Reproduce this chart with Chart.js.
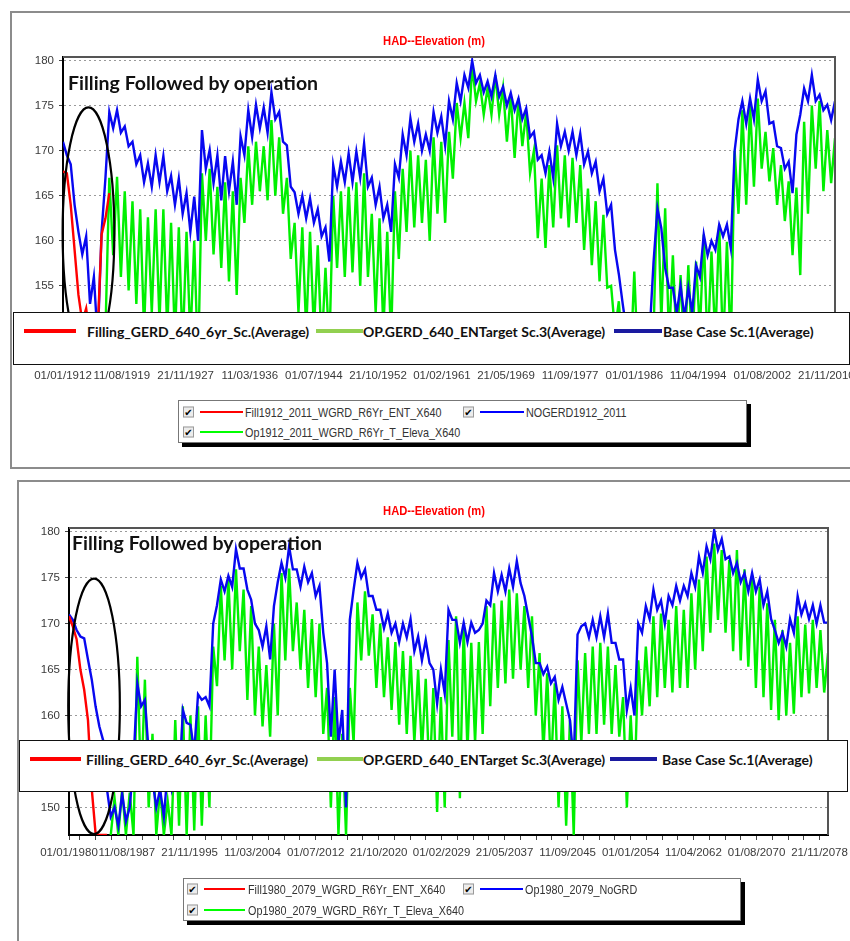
<!DOCTYPE html>
<html>
<head>
<meta charset="utf-8">
<script src="https://cdn.jsdelivr.net/npm/chart.js@4.4.1/dist/chart.umd.min.js"></script>
<style>
  html, body { margin: 0; padding: 0; width: 850px; height: 941px; overflow: hidden; background: #fff; }
  .panel { position: absolute; border: 2px solid #8c8c8c; background: #fff; z-index: 0; }
  canvas { position: absolute; left: 0; z-index: 1; }
  .title { position: absolute; z-index: 2; color: #ff0000; white-space: nowrap; transform: translate(-50%, -50%) scaleX(0.86);
           font: bold 13px 'Liberation Sans', Arial, sans-serif; }
  .note { position: absolute; z-index: 2; color: #111; white-space: nowrap; transform: translateY(-50%);
          font: bold 19.5px Lato, 'Open Sans', sans-serif; }
  .ovl { position: absolute; z-index: 3; background: #fff; border: 1.5px solid #111; box-sizing: border-box; }
  .sw { position: absolute; z-index: 4; height: 4px; transform: translateY(-50%); }
  .ovt { position: absolute; z-index: 4; color: #111; white-space: nowrap; transform: translateY(-50%);
         font: bold 14px Lato, 'Open Sans', sans-serif; }
  .leg { position: absolute; z-index: 3; background: #fff; border: 1px solid #777; box-sizing: border-box;
         box-shadow: 4px 4px 0 #000; }
  .cb { position: absolute; z-index: 4; width: 11px; height: 11px; border: 1px solid #9a9a9a; background: #ececec;
        box-sizing: border-box; transform: translateY(-50%); font: bold 10px 'DejaVu Sans', sans-serif;
        line-height: 9px; text-align: center; color: #000; }
  .ln { position: absolute; z-index: 4; height: 2px; transform: translateY(-50%); }
  .lt { position: absolute; z-index: 4; color: #333; white-space: nowrap; transform-origin: left center;
        transform: translateY(-50%) scaleX(0.83); font: 13px 'Liberation Sans', Arial, sans-serif; }
</style>
</head>
<body>
<div class="panel" style="left:10px; top:11px; width:860px; height:454px;"></div>
<div class="panel" style="left:17px; top:480px; width:860px; height:480px;"></div>
<canvas id="topChart" width="900" height="400" style="top:0; width:900px; height:400px;"></canvas>
<canvas id="botChart" width="900" height="420" style="top:470px; width:900px; height:420px;"></canvas>

<script>
// ── Data: half-yearly readings (peak / low) of HAD elevation, m ──────────
// Upper chart starts 1912.0, lower chart starts 1980.0, step 0.5 year.
const TOP_START = 1912;
const BOT_START = 1980;

const TOP_FILL = [167.7, 167.5, 164, 159, 154, 151, 152.5, 149, 148, 150, 160.7, 162.5, 165.3];

const TOP_OP = [
  null, null, null, null, null, null, null, null, null, null,                 // 1912-16
  null, 150, 167, 158.4, 167.1, 156, 165.5, 154.5, 164.4, 153,                // 1917-21
  163.5, 150, 162.6, 152, 163.5, 151, 163.5, 150, 162, 149,                   // 1922-26
  161.5, 148, 161, 149, 160, 146, 167.5, 160, 168, 158.5,                     // 1927-31
  166, 157, 166.5, 155.5, 165.5, 154, 167, 162, 170.5, 164,                   // 1932-36
  171, 165.5, 170.5, 164.5, 173.4, 165, 171.5, 163, 167, 158,                 // 1937-41
  162, 152, 161.5, 150, 161, 150, 159.5, 148, 157, 148,                       // 1942-46
  165, 157, 165.5, 156, 166, 156.5, 166.5, 155, 167.5, 156,                   // 1947-51
  163, 152, 162.5, 150, 161, 149, 165.5, 158, 168, 161,                       // 1952-56
  170, 161.5, 169.5, 162, 169, 160, 171.5, 163, 171, 162,                     // 1957-61
  172.1, 166.9, 175.3, 171.4, 175.3, 171.4, 179.5, 175.5, 177.5, 174,         // 1962-66
  177, 174, 178.4, 174, 177, 171, 176.2, 169.2, 175.8, 170.5,                 // 1967-71
  174.3, 167.5, 170, 160.3, 166.9, 159.2, 168.4, 161.5, 170.6, 162.5,         // 1972-76
  169.5, 161.5, 169.2, 162, 168.4, 159, 165.8, 157.3, 164.4, 155.5,           // 1977-81
  162.9, 154.8, 155, 150, 153.3, 147, 147, 146, 156.6, 146,                   // 1982-86
  147, 146, 146.5, 150, 166.4, 151, 163.6, 149, 158.4, 148,                   // 1987-91
  156.2, 147, 157.3, 148, 157.7, 150, 160.7, 148, 158.8, 149,                 // 1992-96
  161.8, 148, 159.9, 148, 170, 163, 174.5, 164, 175, 166,                     // 1997-2001
  175.8, 168, 172.1, 166.6, 170.3, 164, 168.4, 162.2, 166.6, 158.4,           // 2002-06
  165.9, 156.2, 173.2, 163, 175, 168, 175.5, 165.5, 172.3, 166.4,             // 2007-11
  171.4                                                                       // 2012
];

const TOP_BASE = [
  171, 169.5, 168.5, 164, 161, 158.5, 160.5, 153, 156, 149,                   // 1912-16
  161, 167, 174.3, 172.5, 174.5, 172, 172.7, 170.5, 171, 168.5,               // 1917-21
  169.5, 166.5, 168.6, 166, 169.5, 166.5, 169.4, 165.5, 167.2, 164,           // 1922-26
  166.9, 163, 165.3, 161, 164.9, 160, 172.3, 168, 170.1, 166.4,               // 1927-31
  169.5, 164.5, 169.4, 165.5, 168.8, 164, 171.6, 169.5, 174.5, 171.5,         // 1932-36
  175.1, 172.5, 174.8, 172, 176.5, 173.5, 174.3, 171, 170.6, 166,             // 1937-41
  165.4, 163, 165, 162.5, 164.7, 162, 163.5, 160.5, 161.5, 157.7,             // 1942-46
  168.4, 166, 168.8, 166.5, 169.7, 166.5, 169.9, 167, 170.8, 166,             // 1947-51
  167, 164, 166, 162.5, 164, 161, 168.5, 167, 171.8, 169.5,                   // 1952-56
  173.6, 171, 173, 170, 171.8, 170, 174.3, 172, 173.8, 170.6,                 // 1957-61
  175.5, 173.5, 177.5, 175.5, 178.4, 177, 180, 177.5, 178.4, 176.5,           // 1962-66
  177.7, 176, 178.4, 176, 177.1, 175, 176.4, 174.5, 175.8, 173.5,             // 1967-71
  174.7, 171.5, 172.1, 169, 169.5, 167.5, 169.9, 167, 173, 170.5,             // 1972-76
  172.1, 170, 172.1, 169.5, 171.9, 168.5, 169.9, 167.5, 168.8, 165.5,         // 1977-81
  166.9, 163, 164, 159, 156.3, 153, 150, 148, 149, 147.5,                     // 1982-86
  149, 147.5, 150, 157.7, 163.6, 161.4, 157, 154.8, 154.8, 152,               // 1987-91
  155, 151.5, 154.8, 152, 157.3, 156, 160.7, 158.4, 160, 159,                 // 1992-96
  161.8, 160.5, 161.8, 159.2, 170, 173.5, 175.5, 173, 175.8, 173.5,           // 1997-2001
  177.9, 175.5, 176.6, 173, 173.2, 170.5, 170.3, 168, 168.8, 165.3,           // 2002-06
  171.8, 174, 176.9, 175.5, 178.4, 175.5, 176.2, 174.5, 175.1, 173.4,         // 2007-11
  175.5                                                                       // 2012
];

const BOT_FILL = [170.8, 169.7, 168.3, 165, 162.8, 159.5, 152, 147.2, 147, 147, 147];

const BOT_OP = [
  null, null, null, null, null, null, null, null, null, null,                 // 1980-84
  null, 147, 151, 147, 152, 147, 151.6, 147, 166.4, 152,                      // 1985-89
  163.9, 150, 158, 147, 152, 147, 150.7, 147, 159.5, 148,                     // 1990-94
  161, 147, 160, 147.5, 161, 148, 160, 150, 167.5, 163.2,                     // 1995-99
  174.1, 166, 174.8, 165, 175.9, 167, 173.7, 161.7, 171.9, 160,               // 2000-04
  167.5, 158.8, 165.5, 157.7, 170, 160, 175.5, 166, 176, 167,                 // 2005-09
  172.3, 165, 171.5, 163, 170.5, 162, 170, 158, 163, 150,                     // 2010-14
  162, 147, 158, 147, 163, 157, 172.3, 166, 173.5, 166.5,                     // 2015-19
  171, 163, 170, 162, 168.5, 160.6, 168, 159, 167, 158,                       // 2020-24
  166.5, 157, 165, 156, 164, 153, 163, 149.5, 162, 150,                       // 2025-29
  168.2, 157.7, 170.8, 151, 169.7, 156, 167.9, 157, 168, 158,                 // 2030-34
  171.9, 161, 172.2, 163, 172.5, 163.5, 173.7, 164, 173.3, 165,               // 2035-39
  171.9, 163, 170.8, 160, 166.8, 156, 164.6, 154, 163.5, 150,                 // 2040-44
  161, 148, 159.5, 147, 166, 157, 166.8, 158, 167.5, 158,                     // 2045-49
  167.9, 159, 167.5, 158, 165.5, 157.7, 162, 150, 160, 152,                   // 2050-54
  166, 160, 167.5, 161, 170.8, 162, 171.1, 163, 170.4, 162.5,                 // 2055-59
  171.9, 163, 171.5, 163, 173.3, 165, 174.8, 167, 177.3, 169,                 // 2060-64
  178.7, 170.4, 178, 169, 176.9, 167, 178, 166, 175.9, 165.3,                 // 2065-69
  175.2, 163, 174, 162, 172.2, 160.6, 170.4, 159.5, 169.3, 160,               // 2070-74
  167.9, 160.2, 170.8, 162, 169.9, 162.4, 170.4, 163, 169.3, 162.5,           // 2075-79
  166.8                                                                       // 2080
];

const BOT_BASE = [
  171, 170.4, 169.3, 168.6, 168.4, 166.1, 163.9, 161, 158.8, 157.3,           // 1980-84
  152, 149, 150, 148, 151.5, 148.5, 150, 155, 163.5, 161,                     // 1985-89
  161.7, 156, 153, 150, 152, 149, 154, 152, 155, 152,                         // 1990-94
  160.6, 159.2, 159, 156, 162.3, 161.7, 162, 161, 170, 172,                   // 1995-99
  174.8, 173.5, 175.2, 174, 178.1, 176, 176, 173.7, 172.6, 170,               // 2000-04
  169.3, 167.5, 169.7, 166.1, 171.9, 174.5, 176.6, 175, 178.4, 175.9,         // 2005-09
  175.9, 174, 176.2, 174.5, 175.5, 173, 174.1, 169, 165.7, 157.7,             // 2010-14
  165, 157, 160.6, 150, 170.4, 173.7, 176.6, 175, 175.9, 173,                 // 2015-19
  173, 171.5, 171.5, 169.5, 171.1, 169, 170, 168, 170, 168.5,                 // 2020-24
  170.5, 167, 168.6, 166, 168.2, 165.7, 165, 161.3, 165, 162.4,               // 2025-29
  171.5, 170.4, 170.4, 167.9, 170.1, 168, 170.1, 169, 169.3, 170,             // 2030-34
  172.5, 172, 175.5, 173.5, 175.3, 173.5, 176, 174, 176.8, 174.4,             // 2035-39
  173, 170.8, 168.6, 165.7, 165.7, 164.5, 165.3, 163.5, 164.2, 161.7,         // 2040-44
  163.1, 161.3, 159.5, 155, 168.8, 169.7, 170, 168.5, 170.4, 168.5,           // 2045-49
  170.8, 168.5, 171.1, 167.9, 167.9, 166.1, 166.1, 160.6, 163, 160,           // 2050-54
  170, 169, 171.9, 170.5, 173.7, 171.5, 172.5, 170, 173, 172,                 // 2055-59
  174.1, 172.5, 174.1, 173, 175.5, 174, 177.3, 175.5, 178.4, 177,             // 2060-64
  180.2, 178, 179.2, 177, 177.3, 175.5, 176.6, 174.5, 175.5, 173.5,           // 2065-69
  175.5, 173.5, 174.8, 172, 173.5, 170.5, 169.3, 167.9, 169, 167.5,           // 2070-74
  170.5, 169, 173, 171, 172.2, 170.5, 172, 170, 172, 170.1,                   // 2075-79
  170.1                                                                       // 2080
];

const TOP_LABELS = ['01/01/1912', '11/08/1919', '21/11/1927', '11/03/1936', '01/07/1944', '21/10/1952',
  '01/02/1961', '21/05/1969', '11/09/1977', '01/01/1986', '11/04/1994', '01/08/2002', '21/11/2010'];
const BOT_LABELS = ['01/01/1980', '11/08/1987', '21/11/1995', '11/03/2004', '01/07/2012', '21/10/2020',
  '01/02/2029', '21/05/2037', '11/09/2045', '01/01/2054', '11/04/2062', '01/08/2070', '21/11/2078'];
const Y_TICKS = [150, 155, 160, 165, 170, 175, 180];

const TITLE = 'HAD--Elevation (m)';
const NOTE = 'Filling Followed by operation';
const SCENARIOS = ['Filling_GERD_640_6yr_Sc.(Average)', 'OP.GERD_640_ENTarget Sc.3(Average)', 'Base Case Sc.1(Average)'];
const TOP_SERIES = ['Fill1912_2011_WGRD_R6Yr_ENT_X640', 'Op1912_2011_WGRD_R6Yr_T_Eleva_X640', 'NOGERD1912_2011'];
const BOT_SERIES = ['Fill1980_2079_WGRD_R6Yr_ENT_X640', 'Op1980_2079_WGRD_R6Yr_T_Eleva_X640', 'Op1980_2079_NoGRD'];

// ── Styling ──────────────────────────────────────────────────────────────
const TICK_FONT = { family: "'Liberation Sans', Arial, sans-serif", size: 11.5 };
const LINE_RED   = '#ff0000';
const LINE_GREEN = '#00f000';
const LINE_BLUE  = '#0808f0';
const SW_COLORS  = ['#ff0000', '#92d050', '#1a1aa0'];

// dd/mm/yyyy -> decimal year
function toYear(s) {
  const [d, m, y] = s.split('/').map(Number);
  const t0 = Date.UTC(y, 0, 1), t1 = Date.UTC(y + 1, 0, 1);
  return y + (Date.UTC(y, m - 1, d) - t0) / (t1 - t0);
}

// Major ticks at the labelled dates, 3 minor ticks in each gap
function buildTicks(labels) {
  const pos = labels.map(toYear);
  const step = (pos[2] - pos[1]) / 4;
  const ticks = [];
  labels.forEach((txt, i) => {
    ticks.push({ value: pos[i], txt });
    const next = pos[i + 1];
    if (next === undefined) return;
    for (let k = 3; k >= 1; k--) {
      const v = next - k * step;
      if (v > pos[i] + 0.2) ticks.push({ value: v, txt: '' });
    }
  });
  return ticks;
}

const toPoints = (arr, start) => arr.map((v, i) => ({ x: start + i * 0.5, y: v }));

// Ellipse annotation (data coords) + top / right plot frame
const framePlugin = {
  id: 'frame',
  afterDatasetsDraw(chart, args, opts) {
    const { ctx, chartArea: a, scales: { x, y } } = chart;
    const e = opts.ellipse;
    ctx.save();
    const cx = x.getPixelForValue(e.x), cy = y.getPixelForValue(e.y);
    const rx = Math.abs(x.getPixelForValue(e.x + e.rx) - cx);
    const ry = Math.abs(y.getPixelForValue(e.y + e.ry) - cy);
    ctx.beginPath();
    ctx.ellipse(cx, cy, rx, ry, 0, 0, Math.PI * 2);
    ctx.lineWidth = 2.2;
    ctx.strokeStyle = '#000';
    ctx.stroke();
    ctx.beginPath();
    ctx.moveTo(a.left, a.top);
    ctx.lineTo(a.right, a.top);
    ctx.lineTo(a.right, a.bottom);
    ctx.lineWidth = 2;
    ctx.strokeStyle = '#555';
    ctx.stroke();
    ctx.restore();
  }
};

function makeChart(id, cfg) {
  const ds = (label, arr, color, start) => ({
    label, data: toPoints(arr, start), borderColor: color, backgroundColor: color,
    borderWidth: 2.4, pointRadius: 0, tension: 0, spanGaps: false
  });
  return new Chart(document.getElementById(id).getContext('2d'), {
    type: 'line',
    data: {
      datasets: [
        ds(cfg.names[0], cfg.fill, LINE_RED, cfg.start),
        ds(cfg.names[2], cfg.base, LINE_BLUE, cfg.start),
        ds(cfg.names[1], cfg.op, LINE_GREEN, cfg.start)
      ]
    },
    options: {
      responsive: false,
      animation: false,
      devicePixelRatio: 1,
      layout: { padding: { left: 0, top: cfg.padTop, right: cfg.padRight, bottom: 0 } },
      plugins: {
        legend: { display: false },
        tooltip: { enabled: false },
        frame: { ellipse: cfg.ellipse }
      },
      scales: {
        x: {
          type: 'linear',
          min: cfg.start,
          max: cfg.start + 100,
          afterBuildTicks: s => { s.ticks = buildTicks(cfg.labels); },
          afterFit: s => { s.height = cfg.xHeight; },
          ticks: {
            autoSkip: false, maxRotation: 0, minRotation: 0, padding: 6,
            font: TICK_FONT, color: '#3a3a3a',
            callback: (v, i, ticks) => ticks[i].txt
          },
          grid: { drawOnChartArea: false, drawTicks: true, tickLength: 5, tickColor: '#444', tickWidth: 1 },
          border: { color: '#000', width: 2 }
        },
        y: {
          min: 147,
          max: 180.4,
          afterBuildTicks: s => { s.ticks = Y_TICKS.map(v => ({ value: v })); },
          afterFit: s => { s.width = cfg.yWidth; },
          ticks: { padding: 5, font: TICK_FONT, color: '#3a3a3a' },
          grid: { color: '#9a9a9a', lineWidth: 1, drawTicks: true, tickLength: 4, tickColor: '#444' },
          border: { color: '#000', width: 2, dash: [2, 3] }
        }
      }
    },
    plugins: [framePlugin]
  });
}

makeChart('topChart', {
  start: TOP_START, fill: TOP_FILL, op: TOP_OP, base: TOP_BASE, labels: TOP_LABELS, names: TOP_SERIES,
  padTop: 57, padRight: 65, yWidth: 63, xHeight: 42,
  ellipse: { x: TOP_START + 3.3, y: 160.9, rx: 3.35, ry: 13.9 }
});

makeChart('botChart', {
  start: BOT_START, fill: BOT_FILL, op: BOT_OP, base: BOT_BASE, labels: BOT_LABELS, names: BOT_SERIES,
  padTop: 58, padRight: 72, yWidth: 69, xHeight: 55,
  ellipse: { x: BOT_START + 3.3, y: 161.0, rx: 3.4, ry: 13.9 }
});

// ── Texts and legend boxes laid over the charts ─────────────────────────
function addEl(cls, css, text) {
  const el = document.createElement('div');
  el.className = cls;
  for (const k in css) el.style[k] = typeof css[k] === 'number' ? css[k] + 'px' : css[k];
  if (text) el.textContent = text;
  document.body.appendChild(el);
  return el;
}

function decorate(p) {
  addEl('title', { left: p.title[0], top: p.title[1] }, TITLE);
  addEl('note', { left: p.note[0], top: p.note[1] }, NOTE);

  // scenario legend box drawn across the plot
  addEl('ovl', { left: p.ovl[0], top: p.ovl[1], width: p.ovl[2], height: p.ovl[3] });
  SCENARIOS.forEach((name, i) => {
    const [x1, x2] = p.sw[i];
    addEl('sw', { left: x1, top: p.ovlRow, width: x2 - x1, background: SW_COLORS[i] });
    addEl('ovt', { left: p.swText[i], top: p.ovlRow }, name);
  });

  // original series legend with check boxes
  addEl('leg', { left: p.leg[0], top: p.leg[1], width: p.leg[2], height: p.leg[3] });
  const colors = [LINE_RED, '#00ff00', '#0000ff'];
  p.items.forEach((it, i) => {
    const y = p.rows[it.row];
    addEl('cb', { left: it.cb, top: y }, '\u2714');
    addEl('ln', { left: it.ln[0], top: y, width: it.ln[1] - it.ln[0], background: colors[i] });
    addEl('lt', { left: it.tx, top: y }, p.names[i]);
  });
}

decorate({
  title: [434, 40], note: [68, 82],
  ovl: [13, 312, 837, 53], ovlRow: 331,
  sw: [[24, 76], [316, 363], [614, 662]], swText: [87, 363, 663],
  leg: [178, 400, 569, 43], rows: [411.5, 432],
  items: [
    { row: 0, cb: 183, ln: [200, 243], tx: 245 },
    { row: 1, cb: 183, ln: [200, 243], tx: 245 },
    { row: 0, cb: 463, ln: [480, 524], tx: 526 }
  ],
  names: TOP_SERIES
});

decorate({
  title: [434, 510], note: [72, 542],
  ovl: [19, 740, 829, 52], ovlRow: 759,
  sw: [[30, 81], [317, 363], [610, 657]], swText: [86, 363, 662],
  leg: [183, 878, 558, 43], rows: [889, 910],
  items: [
    { row: 0, cb: 187, ln: [204, 245], tx: 248 },
    { row: 1, cb: 187, ln: [204, 245], tx: 248 },
    { row: 0, cb: 463, ln: [480, 523], tx: 525 }
  ],
  names: BOT_SERIES
});
</script>
</body>
</html>
